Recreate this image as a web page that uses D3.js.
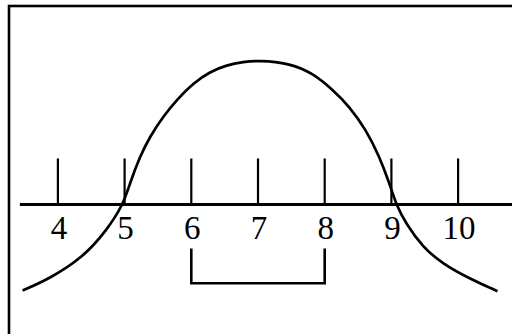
<!DOCTYPE html>
<html>
<head>
<meta charset="utf-8">
<script src="https://cdn.jsdelivr.net/npm/d3@7"></script>
<style>
  html, body { margin: 0; padding: 0; background: #fff; }
  svg { display: block; }
</style>
</head>
<body>
<div id="chart"></div>
<script>
// 数轴上的曲线示意图

const width = 512;
const height = 334;

// 刻度值
const ticks = [4, 5, 6, 7, 8, 9, 10];
const tickLabels = ["4", "5", "6", "7", "8", "9", "10"];

// 曲线（从图上读出的点）
const curveX = [3.47, 3.88, 4.38, 4.73, 4.98, 5.08, 5.23, 5.38, 5.58, 5.78, 6.03, 6.28, 6.53, 6.78, 7.01,
                7.47, 7.82, 8.12, 8.37, 8.62, 8.82, 8.97, 9.07, 9.22, 9.47, 9.77, 10.17, 10.59];
const curveY = [-1.29, -1.11, -0.79, -0.39, 0, 0.32, 0.72, 1.02, 1.32, 1.57, 1.82, 1.99, 2.09, 2.14, 2.16,
                2.12, 1.97, 1.72, 1.47, 1.12, 0.72, 0.32, 0, -0.29, -0.64, -0.89, -1.11, -1.30];

// 数轴范围、刻度高度
const axisRange = [3.43, 11];
const tickHeight = 0.69;

// 下方括号：区间 [6, 8]
const bracketX = [6, 8];
const bracketY = [-0.66, -1.18];

const svg = d3.select("#chart")
    .append("svg")
    .attr("width", width)
    .attr("height", height);

const x = d3.scaleLinear().domain([7, 8]).range([258, 324.7]);
const y = d3.scaleLinear().domain([0, 1]).range([204.5, 137.8]);

// 边框（右、下超出画面）
svg.append("rect")
    .attr("x", 9)
    .attr("y", 6)
    .attr("width", 600)
    .attr("height", 400)
    .style("fill", "none")
    .style("stroke", "#000")
    .style("stroke-width", 2.6);

// 数轴
svg.append("line")
    .attr("x1", x(axisRange[0])).attr("y1", y(0))
    .attr("x2", x(axisRange[1])).attr("y2", y(0))
    .style("stroke", "#000")
    .style("stroke-width", 3);

// 刻度
svg.selectAll(".tick")
    .data(ticks)
    .enter()
    .append("line")
    .attr("class", "tick")
    .attr("x1", d => x(d)).attr("y1", y(0))
    .attr("x2", d => x(d)).attr("y2", y(tickHeight))
    .style("stroke", "#000")
    .style("stroke-width", 2.2);

svg.selectAll(".tick-label")
    .data(ticks)
    .enter()
    .append("text")
    .attr("class", "tick-label")
    .attr("x", d => x(d) + 1)
    .attr("y", y(0) + 34)
    .attr("text-anchor", "middle")
    .style("font-family", "'Liberation Serif', 'Times New Roman', serif")
    .style("font-size", "33px")
    .style("fill", "#000")
    .text((d, i) => tickLabels[i]);

// 曲线
const pts = curveX.map((v, i) => [v, curveY[i]]);
const line = d3.line()
    .x(d => x(d[0]))
    .y(d => y(d[1]))
    .curve(d3.curveBasis);

svg.append("path")
    .attr("d", line(pts))
    .style("fill", "none")
    .style("stroke", "#000")
    .style("stroke-width", 2.7);

// 括号
const bracket = [
    [bracketX[0], bracketY[0]],
    [bracketX[0], bracketY[1]],
    [bracketX[1], bracketY[1]],
    [bracketX[1], bracketY[0]]
];
svg.append("path")
    .attr("d", d3.line().x(d => x(d[0])).y(d => y(d[1]))(bracket))
    .style("fill", "none")
    .style("stroke", "#000")
    .style("stroke-width", 2.6);
</script>
</body>
</html>
